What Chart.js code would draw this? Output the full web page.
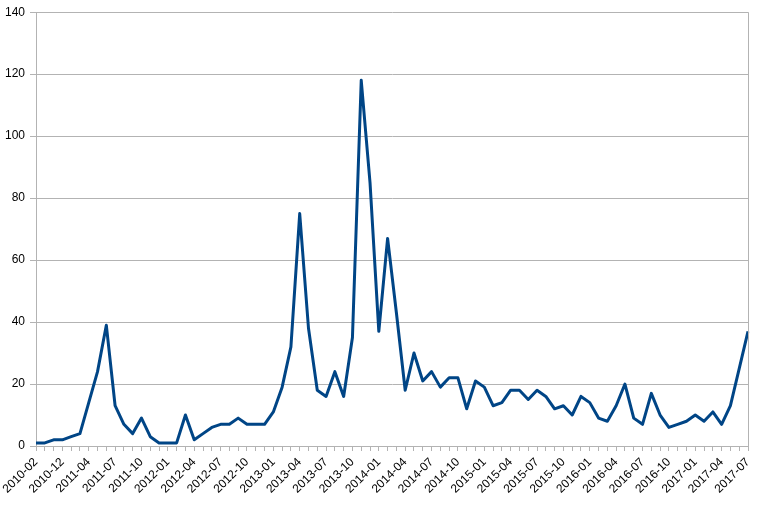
<!DOCTYPE html>
<html>
<head>
<meta charset="utf-8">
<script src="https://cdn.jsdelivr.net/npm/chart.js@4/dist/chart.umd.min.js"></script>
<style>
  html, body { margin: 0; padding: 0; background: #ffffff; }
  #wrap { width: 772px; height: 513px; }
</style>
</head>
<body>
<div id="wrap"><canvas id="chart" width="772" height="513"></canvas></div>
<script>
// Mois (catégories) - les premiers mois ne sont pas consécutifs
const mois = [
    '2010-02', '2010-03', '2010-07', '2010-12', '2011-01', '2011-02',
    '2011-04', '2011-05', '2011-06', '2011-07', '2011-08', '2011-09', '2011-10', '2011-11', '2011-12',
    '2012-01', '2012-02', '2012-03', '2012-04', '2012-05', '2012-06', '2012-07', '2012-08', '2012-09', '2012-10', '2012-11', '2012-12',
    '2013-01', '2013-02', '2013-03', '2013-04', '2013-05', '2013-06', '2013-07', '2013-08', '2013-09', '2013-10', '2013-11', '2013-12',
    '2014-01', '2014-02', '2014-03', '2014-04', '2014-05', '2014-06', '2014-07', '2014-08', '2014-09', '2014-10', '2014-11', '2014-12',
    '2015-01', '2015-02', '2015-03', '2015-04', '2015-05', '2015-06', '2015-07', '2015-08', '2015-09', '2015-10', '2015-11', '2015-12',
    '2016-01', '2016-02', '2016-03', '2016-04', '2016-05', '2016-06', '2016-07', '2016-08', '2016-09', '2016-10', '2016-11', '2016-12',
    '2017-01', '2017-02', '2017-03', '2017-04', '2017-05', '2017-06', '2017-07'
];

// Valeurs
const valeurs = [
    1, 1, 2, 2, 3, 4, 14, 24, 39, 13,
    7, 4, 9, 3, 1, 1, 1, 10, 2, 4,
    6, 7, 7, 9, 7, 7, 7, 11, 19, 32,
    75, 38, 18, 16, 24, 16, 35, 118, 85, 37,
    67, 43, 18, 30, 21, 24, 19, 22, 22, 12,
    21, 19, 13, 14, 18, 18, 15, 18, 16, 12,
    13, 10, 16, 14, 9, 8, 13, 20, 9, 7,
    17, 10, 6, 7, 8, 10, 8, 11, 7, 13,
    25, 37
];

// Graduations de l'axe Y
const yMin = 0;
const yMax = 140;
const yPas = 20;

const gris = '#b3b3b3';

// Bordure droite de la zone de tracé
const bordureDroite = {
    id: 'bordureDroite',
    afterDraw(chart) {
        const {ctx, chartArea} = chart;
        ctx.save();
        ctx.strokeStyle = gris;
        ctx.lineWidth = 1;
        ctx.beginPath();
        ctx.moveTo(Math.round(chartArea.right) + 0.5, chartArea.top);
        ctx.lineTo(Math.round(chartArea.right) + 0.5, chartArea.bottom);
        ctx.stroke();
        ctx.restore();
    }
};

const ctx = document.getElementById('chart');

new Chart(ctx, {
    type: 'line',
    data: {
        labels: mois,
        datasets: [{
            data: valeurs,
            borderColor: '#004586',
            borderWidth: 3,
            borderJoinStyle: 'round',
            pointRadius: 0,
            tension: 0,
            fill: false
        }]
    },
    options: {
        responsive: false,
        animation: false,
        layout: { padding: { top: 12, right: 24, left: 0, bottom: 0 } },
        scales: {
            x: {
                offset: false,
                grid: {
                    drawOnChartArea: false,
                    drawTicks: true,
                    tickLength: 5,
                    color: gris
                },
                border: { color: gris },
                ticks: {
                    autoSkip: false,
                    maxRotation: 45,
                    minRotation: 45,
                    padding: 4,
                    color: '#000000',
                    font: { family: 'Liberation Sans', size: 12 },
                    callback: function(value, index) {
                        return index % 3 === 0 ? mois[index] : '';
                    }
                },
                afterFit: function(axis) { axis.height = 67; }
            },
            y: {
                min: yMin,
                max: yMax,
                ticks: {
                    stepSize: yPas,
                    padding: 5,
                    color: '#000000',
                    font: { family: 'Liberation Sans', size: 12 }
                },
                grid: { color: gris, tickLength: 6 },
                border: { color: gris },
                afterFit: function(axis) { axis.width = 36; }
            }
        },
        plugins: {
            legend: { display: false },
            tooltip: { enabled: false }
        }
    },
    plugins: [bordureDroite]
});
</script>
</body>
</html>
